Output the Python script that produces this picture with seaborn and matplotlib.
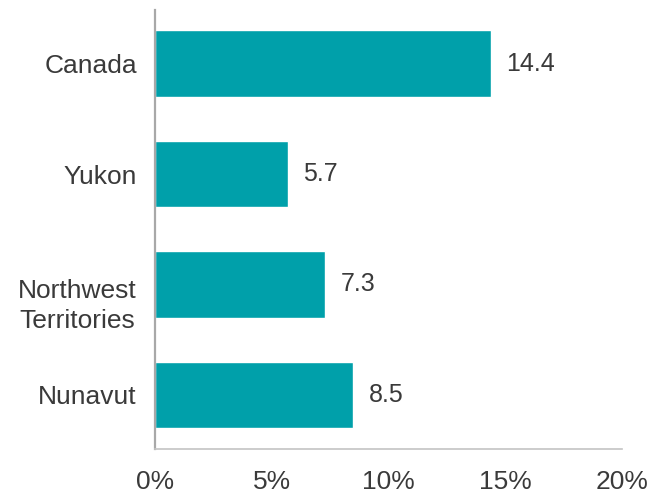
import matplotlib
matplotlib.use("Agg")
import matplotlib.pyplot as plt
import matplotlib.transforms as mtransforms
import seaborn as sns
import pandas as pd

regions = ["Canada", "Yukon", "Northwest\nTerritories", "Nunavut"]
values = [14.4, 5.7, 7.3, 8.5]
x_ticks = [0, 5, 10, 15, 20]
x_tick_labels = ["0%", "5%", "10%", "15%", "20%"]

sns.set_theme(style="white")
plt.rcParams["font.family"] = ["Liberation Sans", "DejaVu Sans"]

df = pd.DataFrame({"region": regions, "value": values})

fig = plt.figure(figsize=(6.53, 4.95), dpi=100)
ax = fig.add_axes([155 / 653, 46 / 495, 467 / 653, 439 / 495])

sns.barplot(data=df, x="value", y="region", orient="h", color="#00A0AA",
            saturation=1, width=0.6, ax=ax)

text_color = "#3a3a3a"
for i, v in enumerate(values):
    ax.text(v + 0.65, i, f"{v:.1f}", va="center", ha="left",
            fontsize=18, color=text_color)

ax.set_xlim(0, 20)
ax.set_ylim(3.49, -0.485)
ax.set_xticks(x_ticks)
ax.set_xticklabels(x_tick_labels, fontsize=19, color=text_color)
ax.set_yticklabels(regions, fontsize=19, color=text_color, ha="right",
                   multialignment="center", linespacing=1.3)
ax.tick_params(axis="x", length=0, pad=15)
ax.tick_params(axis="y", length=0, pad=13)
ax.set_xlabel("")
ax.set_ylabel("")

# the two-line label sits a little below its bar's centre
two_line = ax.get_yticklabels()[2]
two_line.set_transform(two_line.get_transform() +
                       mtransforms.ScaledTranslation(0, -0.16, fig.dpi_scale_trans))

for side in ["top", "right"]:
    ax.spines[side].set_visible(False)
ax.spines["left"].set_color("#a8a8a8")
ax.spines["left"].set_linewidth(1.6)
ax.spines["bottom"].set_color("#c4c4c4")
ax.spines["bottom"].set_linewidth(1.2)

fig.savefig("out.png", dpi=100)
